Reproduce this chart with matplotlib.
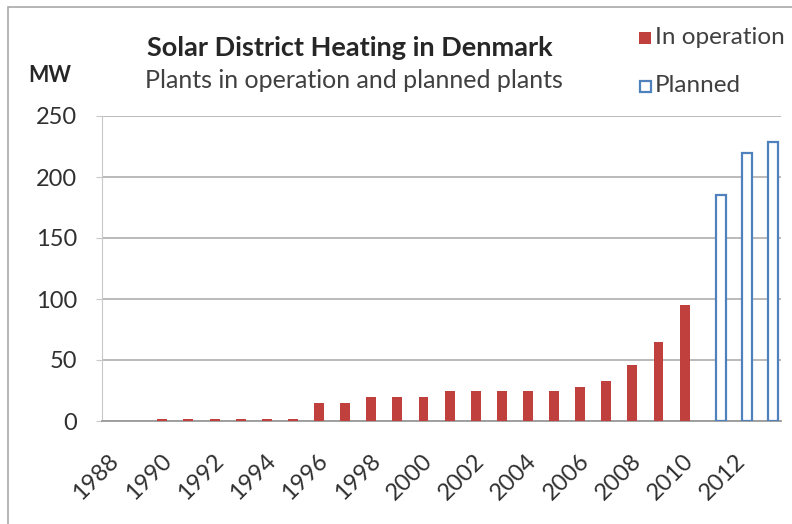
import matplotlib
matplotlib.use('Agg')
import matplotlib.pyplot as plt
import matplotlib.transforms as mtransforms
from matplotlib.patches import Rectangle
import numpy as np

years = list(range(1988, 2014))
in_operation = [0, 0, 2, 2, 2, 2, 2, 2, 15, 15, 20, 20, 20, 25, 25, 25, 25, 25,
                28, 33, 46, 65, 95, np.nan, np.nan, np.nan]
planned = [np.nan] * 23 + [185, 220, 229]
tick_labels = [str(y) if (y - 1988) % 2 == 0 else '' for y in years]

red = '#c0403d'
blue = '#4f81bd'
grid_col = '#b4b4b4'

plt.rcParams['font.family'] = ['Lato', 'DejaVu Sans']

fig = plt.figure(figsize=(7.92, 5.24), dpi=100)
ax = fig.add_axes([102 / 792, 103 / 524, 679 / 792, 305 / 524])

x = np.arange(len(years))
w = 0.38
ax.bar(x - w / 2, in_operation, width=w, color=red, zorder=3)
ax.bar(x + w / 2, planned, width=w, facecolor='white', edgecolor=blue,
       linewidth=1.6, zorder=3)

ax.set_xlim(-0.5, len(years) - 0.5)
ax.set_ylim(0, 250)
ax.set_yticks(range(0, 251, 50))
ax.yaxis.grid(True, color=grid_col, linewidth=1.3, zorder=0)
ax.set_axisbelow(True)

ax.set_xticks(x)
ax.set_xticklabels(tick_labels, rotation=45, ha='right', fontsize=17,
                   color='#303030')
ax.tick_params(axis='x', length=0, pad=21)
ax.tick_params(axis='y', length=4, color='#c8c8c8', pad=14, labelsize=17,
               labelcolor='#303030')
offset = mtransforms.ScaledTranslation(8 / 100, 0, fig.dpi_scale_trans)
for lbl in ax.get_xticklabels():
    lbl.set_transform(lbl.get_transform() + offset)

for s in ['top', 'right']:
    ax.spines[s].set_visible(False)
ax.spines['left'].set_color('#c8c8c8')
ax.spines['bottom'].set_color('#9a9a9a')
ax.spines['bottom'].set_linewidth(1.3)

fig.text(350 / 792, 1 - 48 / 524, 'Solar District Heating in Denmark',
         ha='center', va='center', fontsize=19.5, fontweight='bold',
         color='#262626')
fig.text(354 / 792, 1 - 81 / 524, 'Plants in operation and planned plants',
         ha='center', va='center', fontsize=18, color='#404040')
fig.text(50 / 792, 1 - 76 / 524, 'MW', ha='center', va='center',
         fontsize=15.5, fontweight='bold', color='#262626')

# legend drawn by hand at the top right
fig.patches.append(Rectangle((639 / 792, 1 - 44 / 524), 12 / 792, 12 / 524,
                             transform=fig.transFigure, facecolor=red,
                             edgecolor='none'))
fig.text(655 / 792, 1 - 38 / 524, 'In operation', ha='left', va='center',
         fontsize=17.5, color='#404040')
fig.patches.append(Rectangle((640 / 792, 1 - 92 / 524), 11 / 792, 11 / 524,
                             transform=fig.transFigure, facecolor='white',
                             edgecolor=blue, linewidth=1.6))
fig.text(655 / 792, 1 - 86 / 524, 'Planned', ha='left', va='center',
         fontsize=17.5, color='#404040')

# chart border
fig.patches.append(Rectangle((8 / 792, -0.1), 1.1, 1 - 7 / 524 + 0.1,
                             transform=fig.transFigure, facecolor='none',
                             edgecolor='#a8a8a8', linewidth=1.2))

fig.savefig('out.png', dpi=100)
